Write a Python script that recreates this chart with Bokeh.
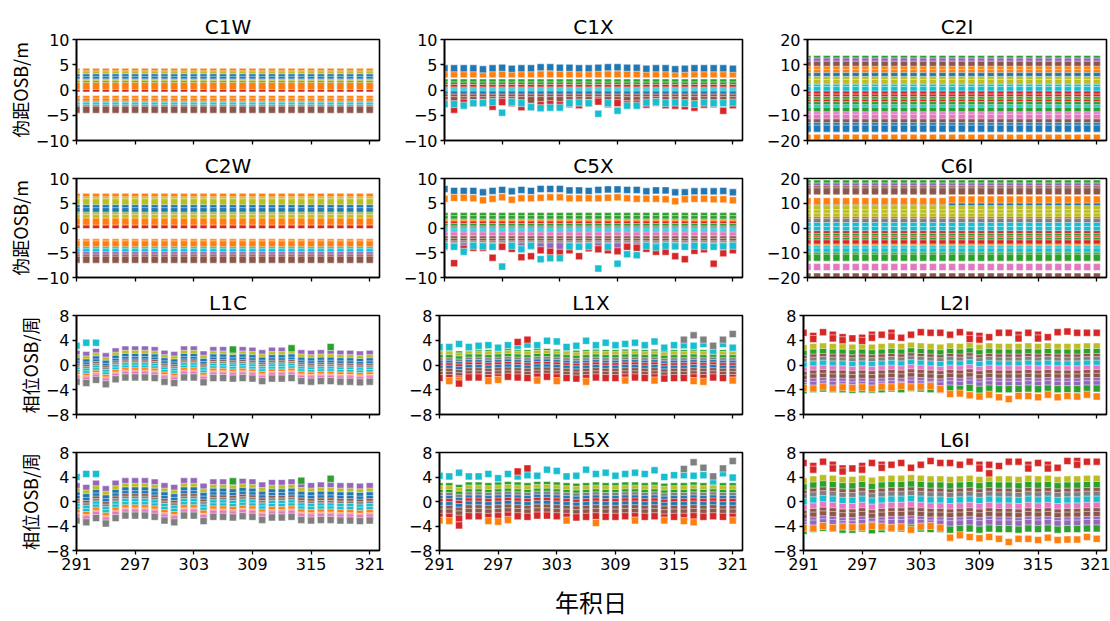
from bokeh.plotting import figure
from bokeh.layouts import column, row
from bokeh.models import Range1d, FixedTicker, ColumnDataSource, CustomLabelingPolicy
from bokeh.embed import file_html
from bokeh.resources import INLINE

# tab10 palette
BLUE = "#1f77b4"; ORANGE = "#ff7f0e"; GREEN = "#2ca02c"; RED = "#d62728"; PURPLE = "#9467bd"
BROWN = "#8c564b"; PINK = "#e377c2"; GRAY = "#7f7f7f"; OLIVE = "#bcbd22"; CYAN = "#17becf"

days = list(range(291, 322))
day_ticks = [291, 297, 303, 309, 315, 321]
code_ticks = [-10, -5, 0, 5, 10]
code_ticks_wide = [-20, -10, 0, 10, 20]
phase_ticks = [-8, -4, 0, 4, 8]

# ---------------- code OSB (m) ----------------
C1W_colors = [RED, ORANGE, OLIVE, BLUE, BLUE, OLIVE, GREEN, ORANGE, ORANGE, ORANGE, CYAN, CYAN, GRAY, BROWN]
C1W_levels = [0.3, 3.6, 3.1, 2.5, 2.0, 1.5, 1.1, 0.8, -1.8, -2.3, -2.9, -3.2, -3.6, -3.9]

C2W_colors = [RED, ORANGE, OLIVE, OLIVE, BLUE, BLUE, OLIVE, OLIVE, ORANGE, ORANGE, ORANGE, CYAN, CYAN, PURPLE, BROWN, BROWN]
C2W_levels = [0.6, 6.3, 5.6, 5.2, 4.0, 3.4, 2.5, 2.0, 1.3, -2.9, -3.3, -4.5, -4.9, -5.5, -6.0, -6.4]

C2I_colors = [GREEN, PURPLE, BROWN, ORANGE, ORANGE, BLUE, OLIVE, OLIVE, CYAN, CYAN, RED, RED, GREEN, RED,
              GREEN, CYAN, GREEN, PINK, PINK, BROWN, BLUE, BLUE, ORANGE]
C2I_levels = [12.3, 11.3, 10.0, 8.0, 6.8, 5.5, 4.0, 2.8, 0.9, 0.0, -1.8, -3.0, -4.0, -5.0,
              -6.0, -7.2, -8.2, -10.0, -11.0, -12.8, -14.3, -15.3, -18.9]

C6I_colors = [GREEN, PURPLE, BROWN, BROWN, BLUE, OLIVE, OLIVE, OLIVE, RED, GRAY, CYAN, CYAN, RED, GREEN,
              RED, GREEN, RED, ORANGE, CYAN, CYAN, GREEN, GREEN, PINK, BROWN]
C6I_levels = [18.0, 16.8, 15.6, 14.8, 9.3, 7.6, 6.0, 4.6, 3.0, 2.4, 0.8, -0.8, -2.5, -3.6,
              -4.6, -5.2, -6.2, -7.9, -8.6, -9.5, -11.2, -12.0, -15.8, -19.6]
C6I_orange = [10.8, 10.8, 10.8, 10.8, 10.8, 10.8, 10.8, 10.8, 10.8, 10.8, 10.8, 10.8, 10.8, 10.8, 10.8,
              11.5, 11.5, 11.5, 11.5, 11.5, 11.5, 11.5, 11.5, 11.5, 11.5, 11.5, 11.5, 11.5, 11.5, 11.5, 11.5]

C1X_colors = [ORANGE, ORANGE, GREEN, GREEN, RED, CYAN, CYAN, BLUE, BROWN, BROWN]
C1X_levels = [3.5, 3.1, 1.5, 0.9, 0.4, -0.1, -0.5, -0.9, -1.5, -2.0]
C1X_blue = [4.3, 4.3, 4.3, 4.3, 4.1, 4.3, 4.4, 4.2, 4.3, 4.3, 4.5, 4.5, 4.4, 4.4, 4.3, 4.3,
            4.4, 4.5, 4.5, 4.4, 4.4, 4.2, 4.3, 4.3, 4.1, 4.2, 4.3, 4.3, 4.3, 4.3, 4.2]
C1X_red_low = [-2.6, -3.9, -2.5, -2.6, -2.5, -3.3, -2.4, -2.6, -3.4, -3.3, -3.0, -2.8, -3.0, -2.8, -3.0, -2.6,
               -2.3, -2.8, -2.6, -2.8, -2.7, -2.9, -2.5, -3.0, -3.1, -3.2, -3.5, -2.9, -2.8, -4.1, -3.0]
C1X_cyan_low = [-2.8, -2.8, -3.1, -2.6, -2.6, -2.4, -4.5, -2.4, -2.6, -3.4, -3.6, -3.5, -3.5, -2.6, -2.5, -2.6,
                -4.7, -2.6, -4.1, -3.1, -3.1, -2.5, -2.4, -2.6, -2.5, -2.6, -2.8, -2.5, -2.6, -2.6, -2.5]

C5X_colors = [GREEN, GREEN, ORANGE, RED, GREEN, GRAY, CYAN, CYAN, BLUE, PINK, BROWN, BROWN, GRAY, PURPLE]
C5X_levels = [2.4, 1.8, 1.1, 0.7, 0.2, -0.3, -0.7, -1.1, -1.7, -1.5, -2.3, -2.8, -3.3, -3.7]
C5X_blue = [7.9, 7.5, 7.5, 7.5, 7.2, 7.5, 7.7, 7.4, 7.7, 7.5, 7.9, 7.9, 7.9, 7.6, 7.6, 7.5,
            7.7, 7.8, 7.8, 7.7, 7.7, 7.4, 7.6, 7.6, 7.2, 7.2, 7.4, 7.4, 7.4, 7.5, 7.2]
C5X_orange = [5.9, 6.1, 6.1, 6.0, 5.6, 5.9, 6.2, 5.7, 6.0, 6.0, 6.1, 6.2, 6.2, 6.0, 6.0, 6.0,
              6.0, 6.1, 6.2, 6.0, 5.9, 5.9, 5.9, 5.8, 5.4, 5.8, 5.9, 5.9, 5.8, 5.8, 5.6]
C5X_red_low = [-3.8, -7.1, -4.2, -4.0, -4.0, -6.0, -3.8, -4.2, -5.9, -5.7, -4.5, -4.8, -5.0, -4.5, -5.7, -4.1,
               -4.3, -4.5, -4.7, -3.8, -4.0, -4.2, -4.8, -4.8, -5.7, -6.3, -4.6, -4.3, -7.2, -5.1, -4.5]
C5X_cyan_low = [-3.6, -3.8, -4.8, -3.6, -3.7, -3.8, -7.8, -3.6, -4.3, -3.6, -6.3, -6.1, -6.1, -3.7, -3.8, -3.7,
                -8.2, -3.8, -7.2, -5.3, -5.5, -3.6, -3.9, -3.6, -3.7, -3.8, -3.6, -3.7, -3.8, -3.7, -3.6]

# ---------------- phase OSB (cycles) ----------------
L1C_colors = [PURPLE, OLIVE, BLUE, BLUE, BROWN, GRAY, CYAN, CYAN, ORANGE, ORANGE, RED, PINK, GRAY]
L1C_levels = [2.1, 1.4, 0.9, 0.4, 0.0, -0.3, -0.6, -1.0, -1.4, -1.8, -1.9, -2.0, -2.4]
L1C_shift = [-0.3, -0.5, 0.0, -0.7, 0.1, 0.4, 0.4, 0.4, 0.3, -0.3, -0.5, 0.4, 0.4, -0.4, 0.3, 0.3,
             0.2, 0.3, 0.2, -0.2, 0.2, 0.2, 0.3, -0.2, -0.3, -0.2, -0.2, -0.3, -0.3, -0.4, -0.3]
L1C_extra_days = [291, 292, 293, 307, 313, 317]
L1C_extra_vals = [3.1, 3.6, 3.6, 2.5, 2.7, 2.9]
L1C_extra_colors = [CYAN, CYAN, CYAN, GREEN, GREEN, GREEN]

L2W_colors = L1C_colors
L2W_levels = [2.8, 1.9, 1.3, 0.7, 0.2, -0.2, -0.6, -1.1, -1.6, -2.1, -2.2, -2.3, -2.8]
L2W_shift = [-0.3, -0.6, 0.1, -0.8, 0.1, 0.5, 0.5, 0.5, 0.3, -0.3, -0.6, 0.5, 0.5, -0.4, 0.3, 0.3,
             0.2, 0.4, 0.3, -0.2, 0.2, 0.2, 0.3, -0.2, -0.3, -0.2, -0.2, -0.3, -0.3, -0.4, -0.3]
L2W_extra_days = [291, 292, 293, 307, 314, 317]
L2W_extra_vals = [4.0, 4.5, 4.5, 3.3, 3.4, 3.7]
L2W_extra_colors = [CYAN, CYAN, CYAN, GREEN, GREEN, GREEN]

L1X_colors = [GREEN, OLIVE, GREEN, GRAY, BLUE, RED, BLUE, BROWN, BROWN, RED]
L1X_levels = [1.9, 1.6, 1.1, 0.6, 0.2, -0.2, -0.6, -1.1, -1.6, -2.1]
L1X_shift = [0.0, 0.0, -0.2, 0.1, 0.1, 0.0, 0.1, 0.2, 0.1, 0.0, 0.2, 0.2, 0.1, 0.0, -0.1, 0.0,
             0.1, 0.0, 0.0, 0.1, 0.1, 0.0, 0.1, -0.1, 0.0, 0.0, 0.1, 0.0, 0.1, 0.0, 0.0]
L1X_cyan_top = [2.9, 2.9, 3.4, 2.9, 3.1, 3.2, 2.8, 3.2, 3.1, 3.3, 3.2, 3.9, 3.8, 2.9, 3.1, 3.9,
                3.2, 3.6, 3.2, 3.4, 3.6, 3.2, 3.8, 2.8, 3.2, 3.2, 3.1, 3.4, 2.3, 3.4, 2.8]
L1X_orange_days = [292, 293, 296, 297, 301, 303, 306, 310, 313, 317, 318, 321]
L1X_orange_vals = [-2.6, -2.5, -2.6, -2.4, -2.5, -2.6, -2.7, -2.5, -2.5, -2.6, -2.7, -2.5]
L1X_extra_days = [293, 299, 300, 316, 317, 318, 319, 320, 321]
L1X_extra_vals = [-3.0, 3.7, 4.1, 4.1, 4.8, 4.1, 3.1, 4.1, 5.0]
L1X_extra_colors = [RED, RED, RED, GRAY, GRAY, GRAY, GRAY, GRAY, GRAY]

L5X_colors = L1X_colors
L5X_levels = [2.5, 2.0, 1.4, 0.9, 0.4, -0.1, -0.6, -1.2, -1.8, -2.5]
L5X_shift = [0.0, 0.0, -0.3, 0.1, 0.1, 0.0, 0.1, 0.2, 0.1, 0.0, 0.2, 0.2, 0.1, 0.0, -0.1, 0.0,
             0.1, 0.0, 0.0, 0.1, 0.1, 0.0, 0.1, -0.1, 0.0, 0.0, 0.1, 0.0, 0.1, 0.0, 0.0]
L5X_cyan_top = [4.2, 4.1, 4.7, 4.1, 4.1, 4.5, 3.8, 4.5, 4.1, 4.3, 4.2, 5.2, 5.0, 4.1, 4.2, 5.2,
                4.5, 4.7, 4.2, 4.5, 4.7, 4.5, 5.1, 4.0, 4.3, 4.3, 4.2, 4.3, 3.3, 4.6, 3.9]
L5X_orange_days = [291, 292, 296, 297, 298, 304, 307, 311, 314, 316, 317, 321]
L5X_orange_vals = [-3.1, -3.2, -3.2, -3.3, -3.0, -3.1, -3.5, -3.1, -3.1, -3.2, -3.4, -3.1]
L5X_extra_days = [293, 299, 300, 316, 317, 318, 319, 320, 321]
L5X_extra_vals = [-3.9, 4.9, 5.4, 5.3, 6.4, 5.5, 4.1, 5.4, 6.6]
L5X_extra_colors = [RED, RED, RED, GRAY, GRAY, GRAY, GRAY, GRAY, GRAY]

L2I_colors = [OLIVE, GREEN, BROWN, GRAY, CYAN, PINK, BROWN, BROWN, PURPLE, PURPLE, GREEN]
L2I_levels = [2.9, 2.0, 1.2, 0.7, 0.1, -0.7, -1.4, -2.0, -2.7, -3.2, -3.9]
L2I_shift = [-0.2, 0.0, 0.1, 0.0, 0.0, -0.1, 0.0, -0.1, 0.0, 0.1, 0.0, 0.2, 0.1, 0.0, -0.1, 0.1,
             0.0, 0.2, -0.1, 0.1, 0.0, 0.0, 0.0, 0.1, 0.0, 0.1, 0.0, 0.0, 0.0, 0.1, 0.1]
L2I_red_top = [5.2, 4.7, 5.3, 4.9, 4.5, 4.3, 4.4, 4.9, 4.9, 5.2, 4.4, 4.9, 5.3, 5.2, 5.2, 4.9,
               5.3, 4.9, 4.7, 4.5, 5.2, 5.2, 4.9, 5.2, 4.9, 4.5, 5.3, 5.4, 5.2, 5.2, 5.2]
L2I_red2_days = [292, 294, 295, 297, 298, 300, 308, 309, 313, 315]
L2I_red2_vals = [4.2, 4.3, 4.0, 3.9, 4.4, 4.6, 4.2, 4.1, 4.3, 4.3]
L2I_orange = [-3.7, -3.8, -3.5, -3.8, -3.6, -3.7, -3.6, -3.8, -3.5, -3.6, -3.4, -3.6, -3.5, -3.4, -3.9,
              -4.7, -4.6, -4.9, -5.1, -4.8, -5.2, -5.5, -5.0, -5.0, -5.2, -4.8, -5.2, -5.0, -5.1, -4.8, -5.1]

L6I_colors = L2I_colors
L6I_levels = [3.6, 2.6, 1.6, 1.0, 0.2, -0.8, -1.7, -2.3, -3.1, -3.6, -4.5]
L6I_shift = [-0.3, 0.0, 0.2, 0.1, -0.1, -0.1, 0.1, -0.2, 0.0, 0.1, 0.1, 0.2, 0.1, 0.0, 0.0, -0.1,
             0.0, 0.1, -0.1, 0.1, 0.0, 0.0, -0.1, 0.1, 0.0, 0.1, -0.1, 0.0, 0.0, 0.1, 0.1]
L6I_red_top = [6.3, 5.8, 6.5, 6.0, 5.4, 5.4, 5.8, 6.3, 6.0, 6.0, 6.3, 5.5, 6.0, 6.6, 6.3, 6.3,
               6.0, 6.5, 6.0, 6.0, 5.8, 6.5, 6.5, 6.0, 6.3, 6.0, 5.5, 6.6, 6.6, 6.5, 6.5]
L6I_red2_days = [292, 294, 295, 297, 299, 309, 310, 314, 316, 319]
L6I_red2_vals = [5.2, 5.4, 4.9, 5.2, 5.5, 5.4, 4.6, 5.4, 5.4, 6.0]
L6I_orange = [-4.3, -4.4, -4.0, -4.3, -4.1, -4.2, -4.2, -4.0, -4.1, -4.3, -4.2, -4.6, -4.1, -4.0, -4.3,
              -5.9, -5.5, -5.8, -6.0, -5.8, -6.1, -6.6, -6.1, -6.1, -6.3, -5.9, -6.3, -6.2, -6.2, -5.8, -6.1]


def build_points(levels, colors, shift=None, daily=(), extra=None):
    """Collect every satellite's daily OSB squares in drawing order."""
    xs, ys, cs = [], [], []
    for lev, col in zip(levels, colors):
        for i, d in enumerate(days):
            xs.append(d)
            ys.append(lev + (shift[i] if shift else 0.0))
            cs.append(col)
    for col, dlist, vals in daily:
        for d, v in zip(dlist, vals):
            xs.append(d); ys.append(v); cs.append(col)
    if extra:
        for d, v, col in zip(*extra):
            xs.append(d); ys.append(v); cs.append(col)
    return dict(x=xs, y=ys, color=cs)


panels = [
    ("C1W", (-10, 10), code_ticks, build_points(C1W_levels, C1W_colors)),
    ("C1X", (-10, 10), code_ticks, build_points(
        C1X_levels, C1X_colors,
        daily=[(BLUE, days, C1X_blue), (RED, days, C1X_red_low), (CYAN, days, C1X_cyan_low)])),
    ("C2I", (-20, 20), code_ticks_wide, build_points(C2I_levels, C2I_colors)),
    ("C2W", (-10, 10), code_ticks, build_points(C2W_levels, C2W_colors)),
    ("C5X", (-10, 10), code_ticks, build_points(
        C5X_levels, C5X_colors,
        daily=[(BLUE, days, C5X_blue), (ORANGE, days, C5X_orange),
               (RED, days, C5X_red_low), (CYAN, days, C5X_cyan_low)])),
    ("C6I", (-20, 20), code_ticks_wide, build_points(
        C6I_levels, C6I_colors, daily=[(ORANGE, days, C6I_orange)])),
    ("L1C", (-8, 8), phase_ticks, build_points(
        L1C_levels, L1C_colors, L1C_shift,
        extra=(L1C_extra_days, L1C_extra_vals, L1C_extra_colors))),
    ("L1X", (-8, 8), phase_ticks, build_points(
        L1X_levels, L1X_colors, L1X_shift,
        daily=[(ORANGE, L1X_orange_days, L1X_orange_vals), (CYAN, days, L1X_cyan_top)],
        extra=(L1X_extra_days, L1X_extra_vals, L1X_extra_colors))),
    ("L2I", (-8, 8), phase_ticks, build_points(
        L2I_levels, L2I_colors, L2I_shift,
        daily=[(RED, days, L2I_red_top), (RED, L2I_red2_days, L2I_red2_vals), (ORANGE, days, L2I_orange)])),
    ("L2W", (-8, 8), phase_ticks, build_points(
        L2W_levels, L2W_colors, L2W_shift,
        extra=(L2W_extra_days, L2W_extra_vals, L2W_extra_colors))),
    ("L5X", (-8, 8), phase_ticks, build_points(
        L5X_levels, L5X_colors, L5X_shift,
        daily=[(ORANGE, L5X_orange_days, L5X_orange_vals), (CYAN, days, L5X_cyan_top)],
        extra=(L5X_extra_days, L5X_extra_vals, L5X_extra_colors))),
    ("L6I", (-8, 8), phase_ticks, build_points(
        L6I_levels, L6I_colors, L6I_shift,
        daily=[(RED, days, L6I_red_top), (RED, L6I_red2_days, L6I_red2_vals), (ORANGE, days, L6I_orange)])),
]

row_ylabels = ["伪距OSB/m", "伪距OSB/m", "相位OSB/周", "相位OSB/周"]

col_w = [400, 363, 347]
col_l = [76, 39, 40]
col_r = [21, 21, 4]
row_h = [151, 137, 137, 196]
row_t = [39, 26, 26, 27]
row_b = [10, 9, 9, 67]

TICK_FONT = "DejaVu Sans"
CJK_FONT = "Noto Sans CJK SC"

rows = []
for r in range(4):
    figs = []
    for c in range(3):
        name, yr, yt, pts = panels[r * 3 + c]
        p = figure(width=col_w[c], height=row_h[r],
                   x_range=Range1d(291, 322), y_range=Range1d(*yr),
                   min_border_left=col_l[c], min_border_right=col_r[c],
                   min_border_top=row_t[r], min_border_bottom=row_b[r],
                   output_backend="svg", toolbar_location=None, title=name)
        p.title.text_font = TICK_FONT
        p.title.text_font_size = "20px"
        p.title.text_font_style = "normal"
        p.title.text_color = "black"
        p.title.align = "center"
        p.title.standoff = 1
        p.grid.visible = False
        p.background_fill_color = "white"
        p.border_fill_color = "white"
        p.outline_line_color = "black"
        p.outline_line_width = 1.6
        p.outline_line_alpha = 1.0

        p.xaxis.ticker = FixedTicker(ticks=day_ticks)
        p.yaxis.ticker = FixedTicker(ticks=yt)
        for ax in (p.xaxis, p.yaxis):
            ax.axis_line_color = "black"
            ax.axis_line_width = 1.6
            ax.major_tick_line_color = "black"
            ax.major_tick_line_width = 1.3
            ax.major_tick_out = 4
            ax.major_tick_in = 0
            ax.minor_tick_out = 0
            ax.minor_tick_in = 0
            ax.major_label_text_font = TICK_FONT
            ax.major_label_text_font_size = "16px"
            ax.major_label_text_color = "black"
            ax.major_label_standoff = 3
        if r < 3:
            # shared day axis: tick marks only, labels on the bottom row
            p.xaxis.major_label_text_font_size = "1px"
            p.xaxis.major_label_policy = CustomLabelingPolicy(code="return []")
        if c == 0:
            p.yaxis.axis_label = row_ylabels[r]
            p.yaxis.axis_label_text_font = CJK_FONT
            p.yaxis.axis_label_text_font_size = "18px"
            p.yaxis.axis_label_text_font_style = "normal"
            p.yaxis.axis_label_text_color = "black"
            p.yaxis.axis_label_standoff = 0
        if r == 3 and c == 1:
            p.xaxis.axis_label = "年积日"
            p.xaxis.axis_label_text_font = CJK_FONT
            p.xaxis.axis_label_text_font_size = "24px"
            p.xaxis.axis_label_text_font_style = "normal"
            p.xaxis.axis_label_text_color = "black"
            p.xaxis.axis_label_standoff = 11

        src = ColumnDataSource(pts)
        p.scatter("x", "y", source=src, marker="square", size=7,
                  fill_color="color", line_color="white", line_width=0.5)
        figs.append(p)
    rows.append(row(*figs, spacing=0))

layout = column(*rows, spacing=0)
open("out.html", "w").write(file_html(layout, INLINE))
